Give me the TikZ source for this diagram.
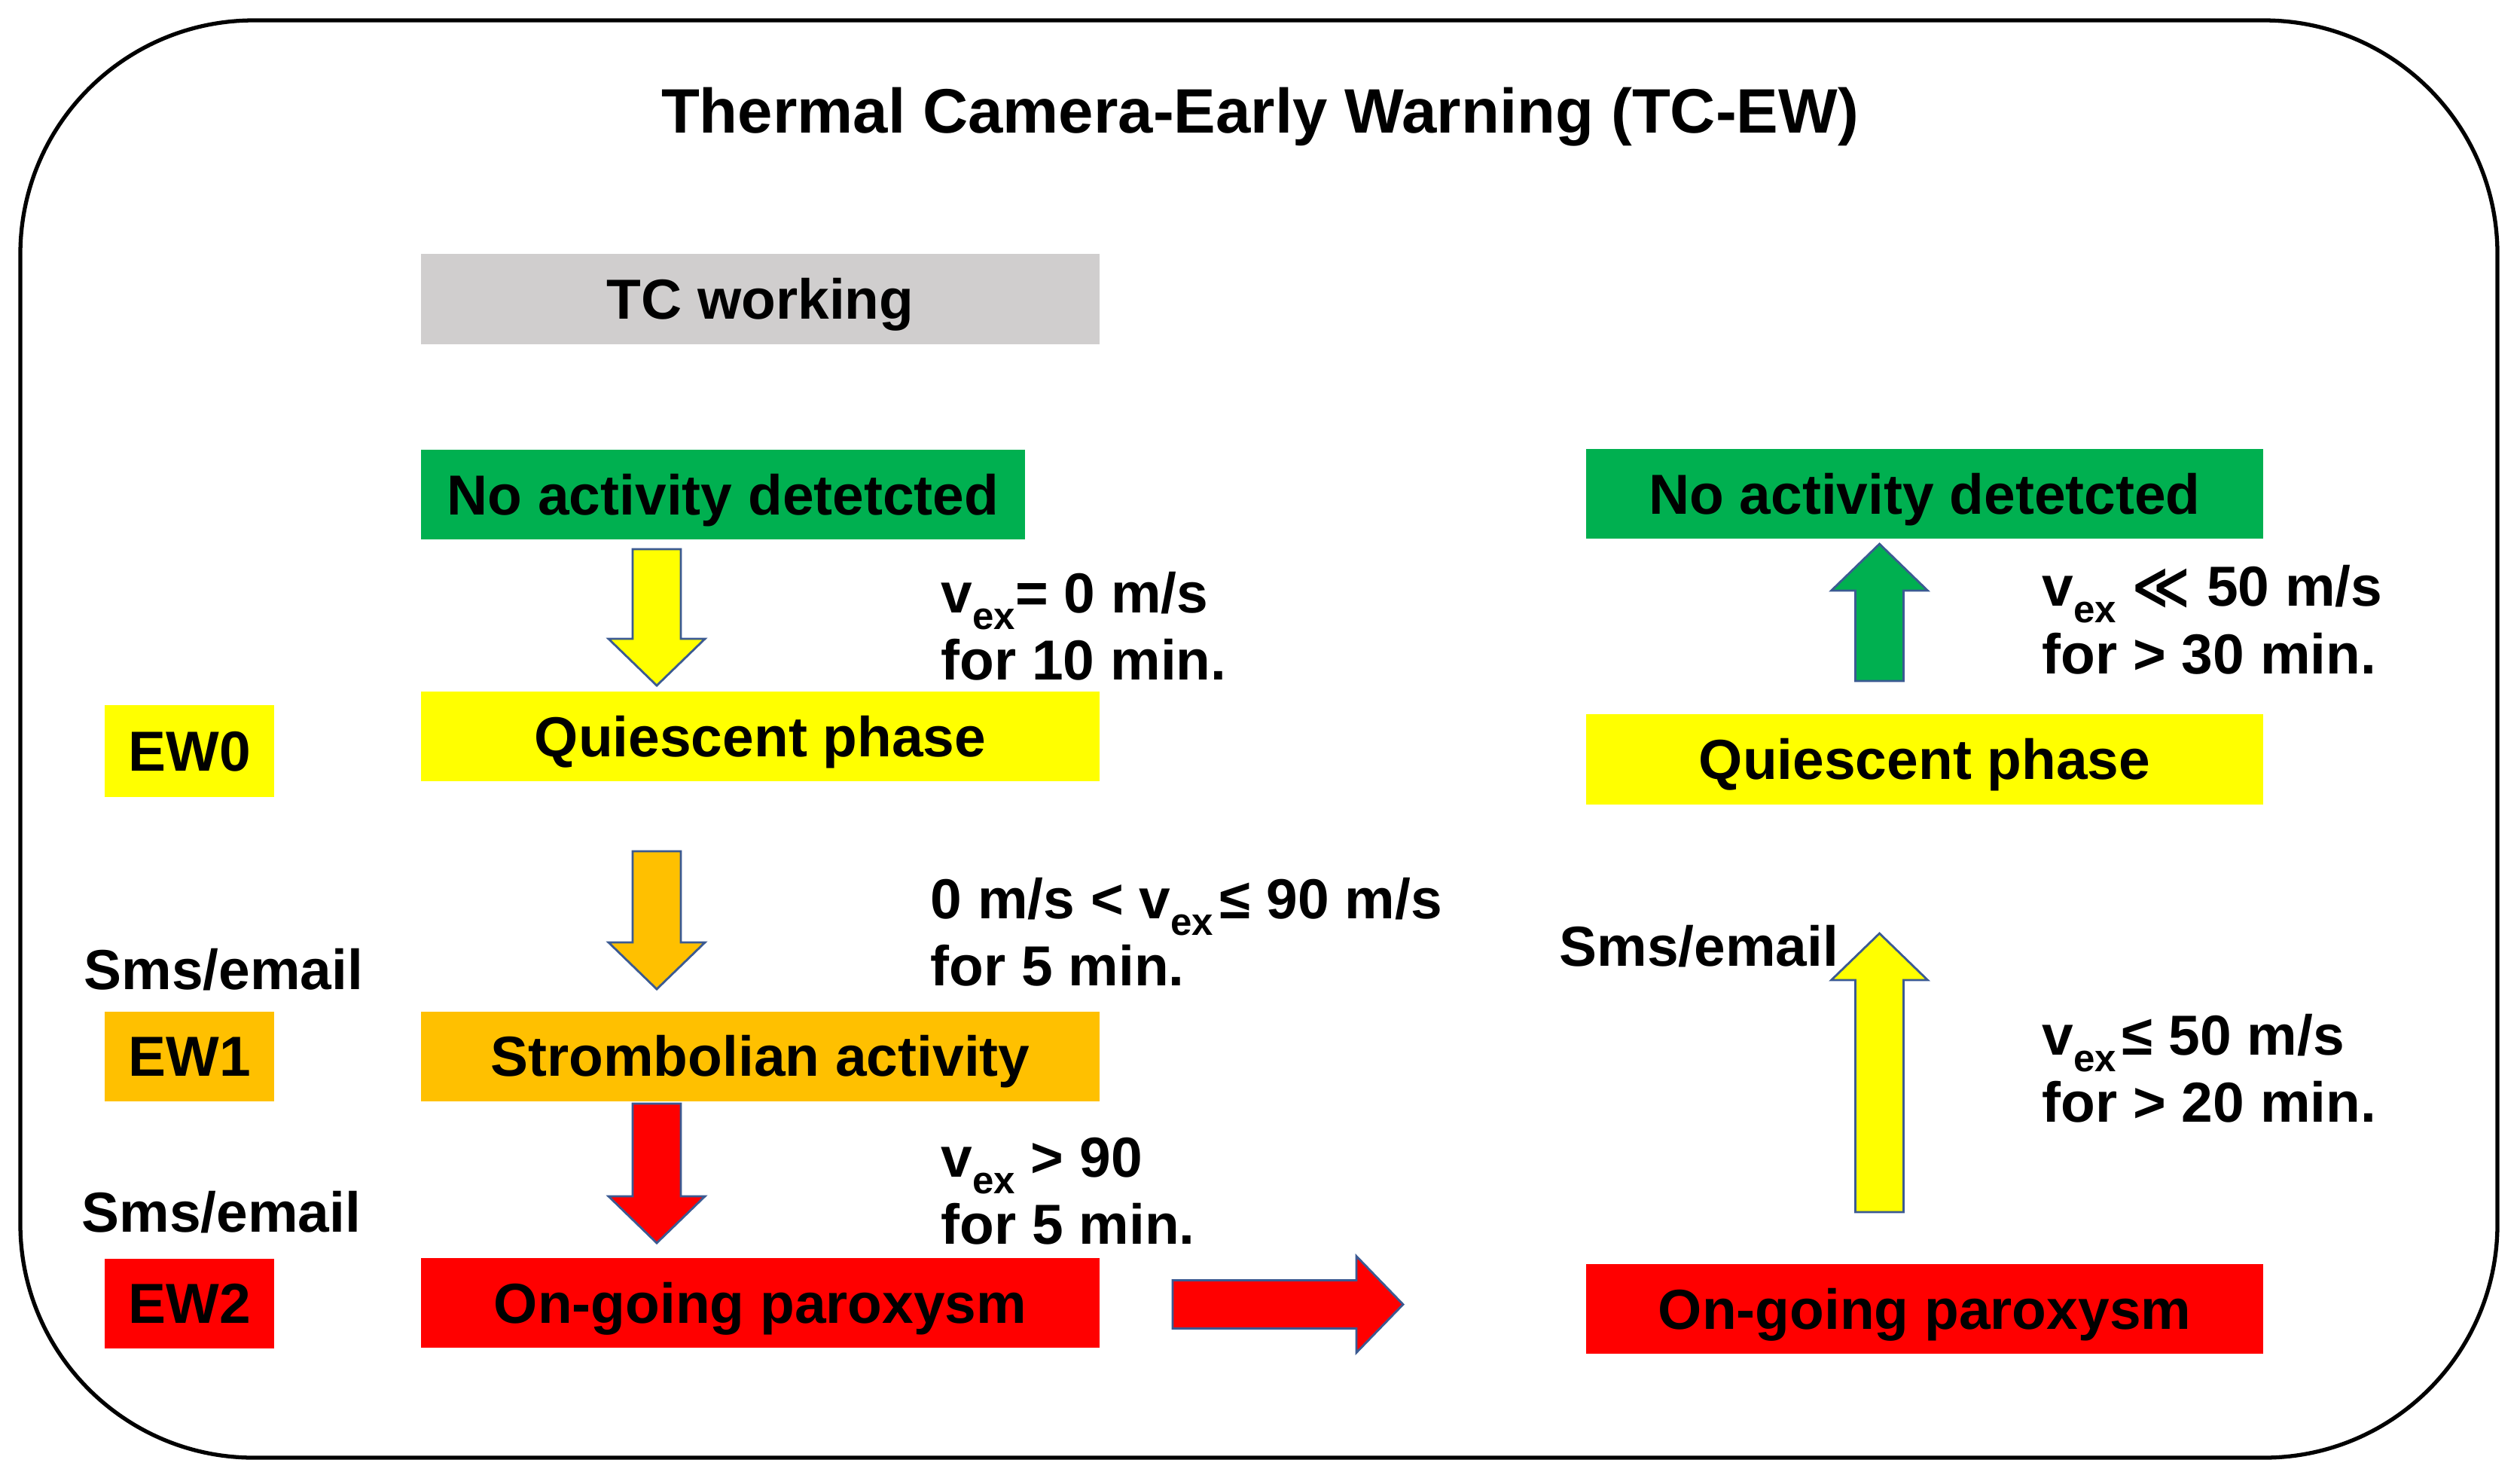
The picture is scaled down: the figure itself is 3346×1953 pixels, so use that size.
\documentclass[tikz,border=0pt]{standalone}
\usepackage{fontspec}
\setmainfont{Liberation Sans}
\newfontfamily\dejavu{DejaVu Sans}
\usetikzlibrary{calc}
\definecolor{cgreen}{HTML}{00B050}
\definecolor{cyellow}{HTML}{FFFF00}
\definecolor{corange}{HTML}{FFC000}
\definecolor{cred}{HTML}{FF0000}
\definecolor{cgray}{HTML}{D0CECE}
\definecolor{cedge}{HTML}{3B5A92}
\newcommand\vex{v\raisebox{-0.3em}{\fontsize{14.5pt}{14.5pt}\selectfont ex}}
\newcommand\mll{{\dejavu\bfseries ≪}}
\tikzset{
  lbl/.style={font=\fontsize{21.3pt}{25pt}\selectfont\bfseries, inner sep=0pt},
  cond/.style={lbl, anchor=base west},
  box/.style={lbl, anchor=center, minimum height=1.19cm, text height=15.3pt, text depth=0pt},
  arrowline/.style={draw=cedge, line width=0.8pt, line join=miter},
  frame/.style={draw=black, line width=1.5pt, rounded corners=3.1cm}
}
% block arrow from start coordinate #2 to tip coordinate #3, filled with #1
\newcommand\bigarrow[3]{%
  \coordinate (#2-h) at ($(#3)!0.62cm!(#2)$);
  \draw[arrowline, fill=#1]
    ($(#2)!0.32cm!90:(#3)$) -- ($(#2-h)!0.32cm!90:(#3)$) -- ($(#2-h)!0.64cm!90:(#3)$)
    -- (#3) -- ($(#2-h)!0.64cm!-90:(#3)$) -- ($(#2-h)!0.32cm!-90:(#3)$)
    -- ($(#2)!0.32cm!-90:(#3)$) -- cycle;}
\begin{document}
\begin{tikzpicture}[x=0.01cm, y=-0.01cm]
\useasboundingbox (0,0) rectangle (3346,1953);
\fill[white] (0,0) rectangle (3346,1953);
\draw[frame] (27,27) rectangle (3316,1935);

\node[lbl, anchor=base, font=\fontsize{23.7pt}{28pt}\selectfont\bfseries] (title) at (1673,176) {Thermal Camera-Early Warning (TC-EW)};

% left column
\node[box, fill=cgray,   minimum width=9.01cm] (tc)  at (1009.5,397)   {TC working};
\node[box, fill=cgreen,  minimum width=8.02cm] (na1) at (960,656.5)    {No activity detetcted};
\node[box, fill=cyellow, minimum width=9.01cm] (q1)  at (1009.5,977.5) {Quiescent phase};
\node[box, fill=corange, minimum width=9.01cm] (s1)  at (1009.5,1402)  {Strombolian activity};
\node[box, fill=cred,    minimum width=9.01cm] (o1)  at (1009.5,1729.5){On-going paroxysm};

\node[box, fill=cyellow, minimum width=2.25cm, minimum height=1.22cm] (ew0) at (251.5,997)  {EW0};
\node[box, fill=corange, minimum width=2.25cm] (ew1) at (251.5,1402) {EW1};
\node[box, fill=cred,    minimum width=2.25cm] (ew2) at (251.5,1730) {EW2};
\node[cond] (sms1) at (111,1313) {Sms/email};
\node[cond] (sms2) at (108,1635) {Sms/email};

% right column
\node[box, fill=cgreen,  minimum width=8.99cm] (na2) at (2555.5,655.5) {No activity detetcted};
\node[box, fill=cyellow, minimum width=8.99cm] (q2)  at (2555.5,1008)  {Quiescent phase};
\node[box, fill=cred,    minimum width=8.99cm] (o2)  at (2555.5,1737.5){On-going paroxysm};
\node[cond] (sms3) at (2070,1282) {Sms/email};

% conditions
\node[cond] (c1a) at (1249,813)  {\vex= 0 m/s};
\node[cond] (c1b) at (1249,902)  {for 10 min.};
\node[cond] (c2a) at (1235,1219) {0 m/s < \vex\hspace{0.12em}≤ 90 m/s};
\node[cond] (c2b) at (1235,1308) {for 5 min.};
\node[cond] (c3a) at (1249,1562) {\vex{} > 90};
\node[cond] (c3b) at (1249,1651) {for 5 min.};
\node[cond] (c4a) at (2711,804)  {\vex{} \mll{} 50 m/s};
\node[cond] (c4b) at (2711,894)  {for > 30 min.};
\node[cond] (c5a) at (2711,1400) {\vex\hspace{0.1em}≤ 50 m/s};
\node[cond] (c5b) at (2711,1489) {for > 20 min.};

% arrow end points
\coordinate (a1s) at (872,729);   \coordinate (a1t) at (872,910);
\coordinate (a2s) at (872,1130);  \coordinate (a2t) at (872,1313);
\coordinate (a3s) at (872,1465);  \coordinate (a3t) at (872,1650);
\coordinate (a4s) at (1557,1731.5); \coordinate (a4t) at (1863,1731.5);
\coordinate (a5s) at (2495.5,1609); \coordinate (a5t) at (2495.5,1239);
\coordinate (a6s) at (2495.5,904);  \coordinate (a6t) at (2495.5,722);

\bigarrow{cyellow}{a1s}{a1t}
\bigarrow{corange}{a2s}{a2t}
\bigarrow{cred}{a3s}{a3t}
\bigarrow{cred}{a4s}{a4t}
\bigarrow{cyellow}{a5s}{a5t}
\bigarrow{cgreen}{a6s}{a6t}
\end{tikzpicture}
\end{document}
